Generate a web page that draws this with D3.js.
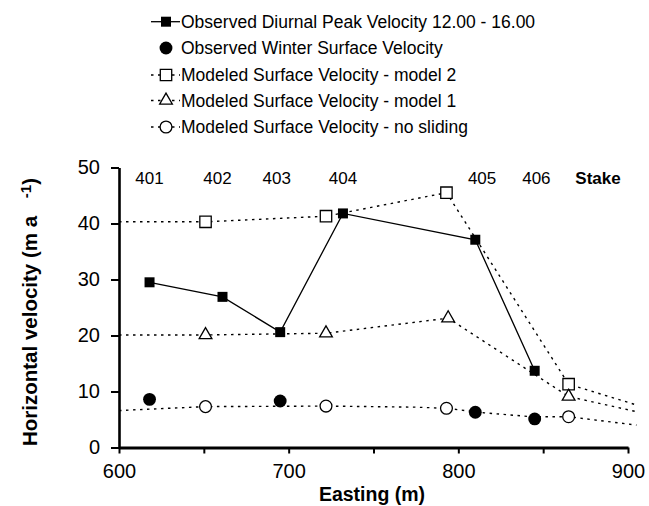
<!DOCTYPE html>
<html><head><meta charset="utf-8">
<script src="https://cdn.jsdelivr.net/npm/d3@7"></script>
<style>
body{margin:0;background:#fff;}
svg{display:block;font-family:"Liberation Sans",Arial,sans-serif;}
</style></head>
<body><svg id="c" width="649" height="506"></svg>
<script>
// ---- data ----
const stakeLabels = ["401","402","403","404","405","406"];
const stakeLabelEasting = [618, 658, 693, 732, 814, 846];

const diurnalEasting = [618, 661, 695, 732, 810, 845];
const diurnalVel = [29.5, 26.9, 20.6, 41.8, 37.1, 13.7];

const winterEasting = [618, 695, 810, 845];
const winterVel = [8.6, 8.3, 6.3, 5.1];

const model2LineEasting = [600, 651, 722, 793, 865, 905];
const model2LineVel = [40.3, 40.3, 41.3, 45.5, 11.3, 7.6];
const model2MarkEasting = [651, 722, 793, 865];
const model2MarkVel = [40.3, 41.3, 45.5, 11.3];

const model1LineEasting = [600, 651, 722, 794, 865, 905];
const model1LineVel = [20.1, 20.1, 20.4, 23.1, 9.1, 6.4];
const model1MarkEasting = [651, 722, 794, 865];
const model1MarkVel = [20.1, 20.4, 23.1, 9.1];

const noSlideLineEasting = [600, 651, 722, 775, 793, 815, 843, 865, 905];
const noSlideLineVel = [6.6, 7.3, 7.4, 7.2, 7.0, 6.2, 5.5, 5.5, 4.0];
const noSlideMarkEasting = [651, 722, 793, 865];
const noSlideMarkVel = [7.3, 7.4, 7.0, 5.5];

const xTicks = [600, 650, 700, 750, 800, 850, 900];
const yTicks = [0, 10, 20, 30, 40, 50];

const legendLabels = [
  "Observed Diurnal Peak Velocity 12.00 - 16.00",
  "Observed Winter Surface Velocity",
  "Modeled Surface Velocity - model 2",
  "Modeled Surface Velocity - model 1",
  "Modeled Surface Velocity - no sliding"
];

// ---- drawing ----
const svg = d3.select("#c");
const x = d3.scaleLinear().domain([600, 900]).range([119, 628]);
const y = d3.scaleLinear().domain([0, 50]).range([447.5, 167.5]);

const DASH = "2.5,4.5";
const zip = (a, b) => a.map((v, i) => [v, b[i]]);
const line = d3.line().x(d => x(d[0])).y(d => y(d[1]));

// symbols
const sqFilled = d3.symbol().type(d3.symbolSquare).size(100);
const sqOpen = d3.symbol().type(d3.symbolSquare).size(130);
const circFilled = d3.symbol().type(d3.symbolCircle).size(130);
const circOpen = d3.symbol().type(d3.symbolCircle).size(110);
const tri = d3.symbol().type(d3.symbolTriangle).size(70);

function drawMarkers(data, sym, filled) {
  svg.append("g").selectAll("path").data(data).join("path")
    .attr("transform", d => `translate(${x(d[0])},${y(d[1])})`)
    .attr("d", sym)
    .attr("fill", filled ? "#000" : "#fff")
    .attr("stroke", "#000")
    .attr("stroke-width", filled ? 0 : 1.3);
}

// modeled lines
[[model2LineEasting, model2LineVel], [model1LineEasting, model1LineVel], [noSlideLineEasting, noSlideLineVel]]
  .forEach(([e, v]) => {
    svg.append("path").datum(zip(e, v)).attr("d", line)
      .attr("fill", "none").attr("stroke", "#000").attr("stroke-width", 1.4)
      .attr("stroke-dasharray", DASH);
  });

// observed diurnal line
svg.append("path").datum(zip(diurnalEasting, diurnalVel)).attr("d", line)
  .attr("fill", "none").attr("stroke", "#000").attr("stroke-width", 1.3);

drawMarkers(zip(model2MarkEasting, model2MarkVel), sqOpen, false);
drawMarkers(zip(model1MarkEasting, model1MarkVel), tri, false);
drawMarkers(zip(noSlideMarkEasting, noSlideMarkVel), circOpen, false);
drawMarkers(zip(winterEasting, winterVel), circFilled, true);
drawMarkers(zip(diurnalEasting, diurnalVel), sqFilled, true);

// axes
const yAxis = d3.axisLeft(y).tickValues(yTicks).tickSize(8).tickSizeOuter(0).tickPadding(11);
const gy = svg.append("g").attr("transform", `translate(${x(600)},0)`).call(yAxis);
gy.select(".domain").attr("stroke-width", 2.6);
gy.selectAll(".tick line").attr("stroke-width", 2);
gy.selectAll("text").attr("font-size", 20).attr("font-family", "Liberation Sans, Arial, sans-serif").attr("fill", "#000");

const xAxis = d3.axisBottom(x).tickValues(xTicks).tickSize(6).tickSizeOuter(0).tickPadding(10)
  .tickFormat(d => d % 100 === 0 ? d : "");
const gx = svg.append("g").attr("transform", `translate(0,${y(0)})`).call(xAxis);
gx.select(".domain").attr("stroke-width", 3);
gx.selectAll(".tick line").attr("stroke-width", 2);
gx.selectAll("text").attr("font-size", 20).attr("font-family", "Liberation Sans, Arial, sans-serif").attr("fill", "#000");

// stake labels
svg.append("g").selectAll("text").data(stakeLabels).join("text")
  .attr("x", (d, i) => x(stakeLabelEasting[i])).attr("y", 183.5)
  .attr("text-anchor", "middle").attr("font-size", 17).text(d => d);
svg.append("text").attr("x", 598).attr("y", 183.5).attr("text-anchor", "middle")
  .attr("font-size", 17).attr("font-weight", "bold").text("Stake");

// axis titles
svg.append("text").attr("x", 372).attr("y", 501).attr("text-anchor", "middle")
  .attr("font-size", 19.5).attr("font-weight", "bold").text("Easting (m)");

const yt = svg.append("text").attr("transform", "translate(37,446) rotate(-90)")
  .attr("font-size", 20.5).attr("font-weight", "bold");
yt.append("tspan").text("Horizontal velocity (m a ");
yt.append("tspan").attr("dy", -6).attr("dx", 12).attr("font-size", 15).text("-1");
yt.append("tspan").attr("dy", 6).text(")");

// legend
const legY = [21.7, 48, 75, 100.5, 127];
const lg = svg.append("g");
legendLabels.forEach((lab, i) => {
  const cy = legY[i];
  if (i === 0) {
    lg.append("line").attr("x1", 151).attr("x2", 180).attr("y1", cy).attr("y2", cy)
      .attr("stroke", "#000").attr("stroke-width", 1.3);
  } else if (i > 1) {
    lg.append("line").attr("x1", 151).attr("x2", 180).attr("y1", cy).attr("y2", cy)
      .attr("stroke", "#000").attr("stroke-width", 1.4).attr("stroke-dasharray", DASH);
  }
  const sym = [sqFilled, circFilled, sqOpen, tri, circOpen][i];
  const filled = i < 2;
  lg.append("path").attr("transform", `translate(166,${cy})`).attr("d", sym)
    .attr("fill", filled ? "#000" : "#fff").attr("stroke", "#000").attr("stroke-width", filled ? 0 : 1.3);
  lg.append("text").attr("x", 181).attr("y", cy).attr("dy", "0.36em")
    .attr("font-size", 17.5).text(lab);
});
</script></body></html>
